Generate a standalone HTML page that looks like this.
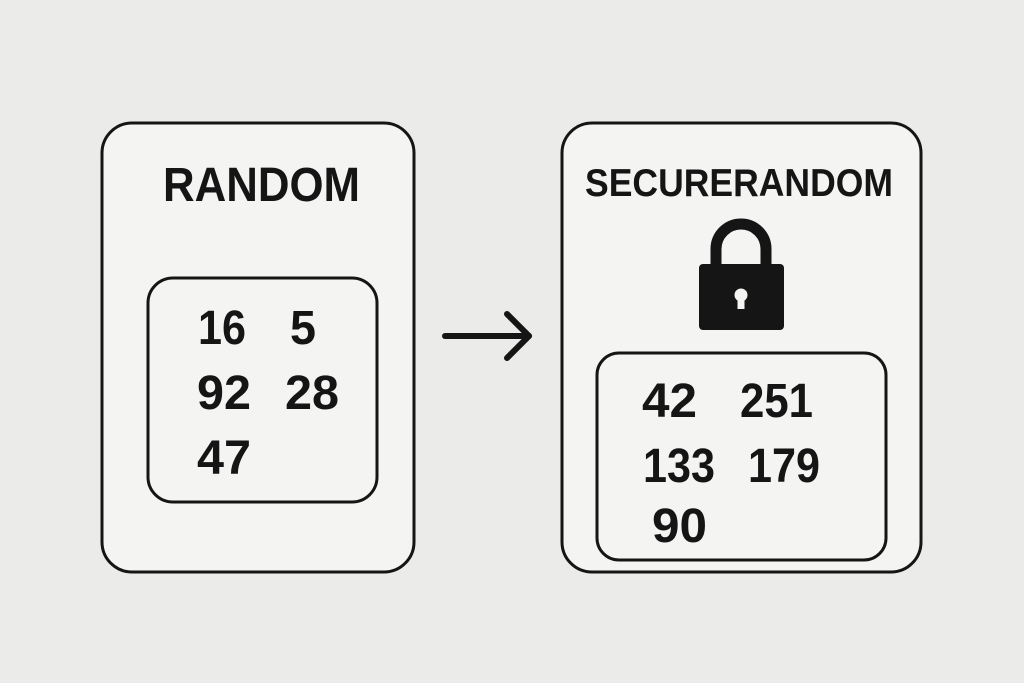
<!DOCTYPE html>
<html><head><meta charset="utf-8"><style>
html,body{margin:0;padding:0;background:#ebebe9;}
svg{display:block}
text{font-family:"Liberation Sans",sans-serif;font-weight:bold;fill:#151515}
</style></head><body>
<svg width="1024" height="683" viewBox="0 0 1024 683">
<rect width="1024" height="683" fill="#ebebe9"/>
<rect x="102" y="123" width="312" height="449" rx="30" fill="#f4f4f2" stroke="#151515" stroke-width="3"/>
<rect x="148" y="278" width="229" height="224" rx="25" fill="#f4f4f2" stroke="#151515" stroke-width="3"/>
<rect x="562" y="123" width="359" height="449" rx="30" fill="#f4f4f2" stroke="#151515" stroke-width="3"/>
<rect x="597" y="353" width="289" height="207" rx="22" fill="#f4f4f2" stroke="#151515" stroke-width="3"/>
<text x="163" y="201" font-size="48" textLength="197" lengthAdjust="spacingAndGlyphs">RANDOM</text>
<text x="585" y="196" font-size="39" textLength="308" lengthAdjust="spacingAndGlyphs">SECURERANDOM</text>
<g font-size="48">
<text x="198" y="344" textLength="48" lengthAdjust="spacingAndGlyphs">16</text>
<text x="290" y="344" textLength="26" lengthAdjust="spacingAndGlyphs">5</text>
<text x="197" y="409" textLength="54" lengthAdjust="spacingAndGlyphs">92</text>
<text x="285" y="409" textLength="54" lengthAdjust="spacingAndGlyphs">28</text>
<text x="197" y="474" textLength="54" lengthAdjust="spacingAndGlyphs">47</text>
<text x="642" y="417" textLength="55" lengthAdjust="spacingAndGlyphs">42</text>
<text x="740" y="417" textLength="73" lengthAdjust="spacingAndGlyphs">251</text>
<text x="643" y="482" textLength="72" lengthAdjust="spacingAndGlyphs">133</text>
<text x="748" y="482" textLength="72" lengthAdjust="spacingAndGlyphs">179</text>
<text x="652" y="542" textLength="55" lengthAdjust="spacingAndGlyphs">90</text>
</g>
<path d="M716 266 V249 a25 25 0 0 1 50 0 V266" fill="none" stroke="#151515" stroke-width="11"/>
<rect x="699" y="264" width="85" height="66" rx="4" fill="#151515"/>
<circle cx="741" cy="295" r="6.5" fill="#f4f4f2"/>
<rect x="737.5" y="297" width="7" height="12" fill="#f4f4f2"/>
<g stroke="#151515" stroke-width="6" fill="none" stroke-linecap="round" stroke-linejoin="round">
<line x1="445" y1="336" x2="529" y2="336"/>
<polyline points="507,314 529,336 507,358"/>
</g>
</svg>
</body></html>
